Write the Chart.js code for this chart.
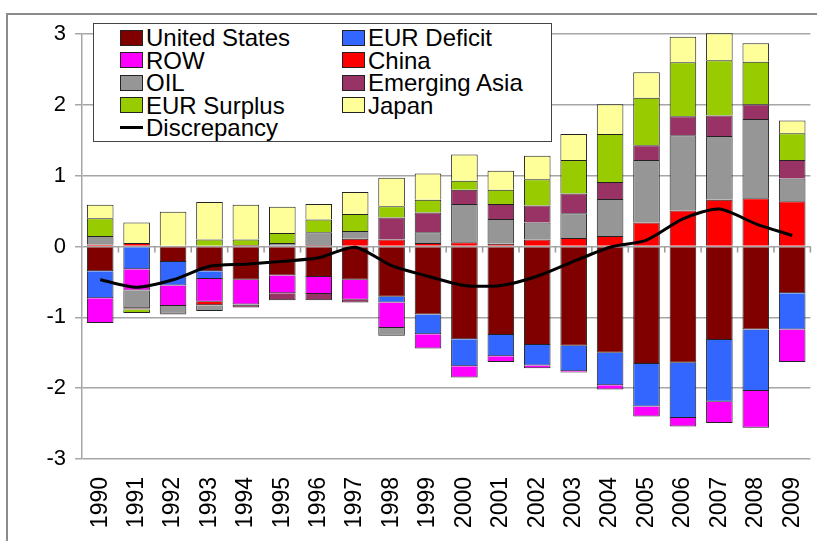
<!DOCTYPE html>
<html>
<head>
<meta charset="utf-8">
<script src="https://cdn.jsdelivr.net/npm/chart.js@4.4.1/dist/chart.umd.min.js"></script>
<style>
    html, body { margin: 0; padding: 0; background: #fff; overflow: hidden; }
    body { width: 817px; height: 541px; position: relative; font-family: "Liberation Sans", Arial, sans-serif; }
    #frame { position: absolute; left: 6px; top: 13px; width: 900px; height: 600px; border-left: 2px solid #8c8c8c; border-top: 2px solid #8c8c8c; }
    #wrap { position: absolute; left: 0; top: 0; width: 830px; height: 541px; }
    #legend { position: absolute; left: 93px; top: 23px; width: 459px; height: 119px; box-sizing: border-box;
              border: 1.5px solid #444; background: #fff; }
    .item { position: absolute; height: 22px; line-height: 22px; font-size: 24px; color: #000; white-space: nowrap; }
    .sw { display: inline-block; width: 21px; height: 14px; border: 1px solid #222; vertical-align: middle; margin-right: 3px; position: relative; top: -2px; }
    .ln { display: inline-block; width: 23px; height: 3px; background: #000; vertical-align: middle; margin-right: 3px; position: relative; top: -2px; }
</style>
</head>
<body>
<div id="frame"></div>
<div id="wrap"><canvas id="imbChart"></canvas></div>
<div id="legend"></div>
<script>
// current accounts, % of world GDP
const years = ["1990","1991","1992","1993","1994","1995","1996","1997","1998","1999",
               "2000","2001","2002","2003","2004","2005","2006","2007","2008","2009"];
const unitedStates = [-0.35, 0, -0.22, -0.35, -0.47, -0.41, -0.43, -0.47, -0.71, -0.96, -1.31, -1.25, -1.39, -1.40, -1.50, -1.66, -1.64, -1.32, -1.17, -0.66];
const eurDeficit   = [-0.38, -0.32, -0.33, -0.11, 0, 0, 0, 0, -0.08, -0.28, -0.38, -0.30, -0.29, -0.36, -0.46, -0.60, -0.78, -0.87, -0.87, -0.51];
const row          = [-0.35, -0.30, -0.29, -0.32, -0.35, -0.25, -0.24, -0.28, -0.36, -0.20, -0.16, -0.08, -0.04, -0.02, -0.06, -0.14, -0.12, -0.30, -0.52, -0.46];
const china        = [0.03, 0.05, 0.01, -0.05, 0.02, 0.01, 0.02, 0.11, 0.10, 0.05, 0.06, 0.04, 0.10, 0.12, 0.15, 0.34, 0.51, 0.66, 0.68, 0.64];
const oil          = [0.12, -0.25, -0.11, -0.08, -0.02, 0.04, 0.18, 0.11, -0.11, 0.15, 0.54, 0.35, 0.24, 0.35, 0.52, 0.88, 1.06, 0.90, 1.12, 0.32];
const emergingAsia = [0, -0.02, -0.01, 0, -0.02, -0.10, -0.09, -0.04, 0.31, 0.28, 0.20, 0.21, 0.24, 0.28, 0.24, 0.21, 0.27, 0.29, 0.21, 0.26];
const eurSurplus   = [0.25, -0.05, 0, 0.10, 0.08, 0.14, 0.18, 0.24, 0.16, 0.18, 0.13, 0.20, 0.37, 0.47, 0.68, 0.67, 0.76, 0.78, 0.60, 0.38];
const japan        = [0.19, 0.29, 0.48, 0.53, 0.49, 0.37, 0.22, 0.31, 0.40, 0.37, 0.37, 0.27, 0.33, 0.37, 0.42, 0.36, 0.36, 0.38, 0.26, 0.18];
const discrepancy  = [-0.47, -0.575, -0.47, -0.28, -0.25, -0.21, -0.16, -0.01, -0.27, -0.42, -0.55, -0.55, -0.42, -0.21, -0.01, 0.09, 0.39, 0.53, 0.32, 0.155];
const yTicks = [-3, -2, -1, 0, 1, 2, 3];

const FONT = "'Liberation Sans', Arial, sans-serif";

function barSet(label, data, color) {
    return {
        type: 'bar', label: label, data: data, backgroundColor: color,
        borderColor: '#222', borderWidth: 1, stack: 'ca', order: 1, clip: false,
        barPercentage: 0.73, categoryPercentage: 1.0
    };
}

const barSets = [
    barSet('United States', unitedStates, '#800000'),
    barSet('EUR Deficit', eurDeficit, '#3366FF'),
    barSet('ROW', row, '#FF00FF'),
    barSet('China', china, '#FF0000'),
    barSet('OIL', oil, '#969696'),
    barSet('Emerging Asia', emergingAsia, '#993366'),
    barSet('EUR Surplus', eurSurplus, '#99CC00'),
    barSet('Japan', japan, '#FFFF99')
];

const lineSet = {
    type: 'line', label: 'Discrepancy', data: discrepancy, borderColor: '#000',
    borderWidth: 3, pointRadius: 0, tension: 0.25, fill: false, stack: 'disc', order: 0
};

// little ticks hanging off the zero line between categories (excel style)
const zeroTicks = {
    id: 'zeroTicks',
    beforeDatasetsDraw(chart) {
        const xs = chart.scales.x, ys = chart.scales.y, ctx = chart.ctx;
        const y0 = ys.getPixelForValue(0);
        ctx.save();
        ctx.strokeStyle = '#9a9a9a';
        ctx.lineWidth = 1.5;
        for (let i = 0; i < years.length; i++) {
            const x = (xs.getPixelForValue(i) + xs.getPixelForValue(i + 1)) / 2;
            ctx.beginPath();
            ctx.moveTo(x, y0);
            ctx.lineTo(x, y0 + 6);
            ctx.stroke();
        }
        ctx.restore();
    }
};

const ctx = document.getElementById('imbChart').getContext('2d');
const imbChart = new Chart(ctx, {
    data: { labels: years, datasets: [lineSet].concat(barSets) },
    options: {
        responsive: true,
        maintainAspectRatio: false,
        animation: false,
        layout: { padding: { top: 34, right: 8, left: 0, bottom: 0 } },
        plugins: { legend: { display: false }, tooltip: { enabled: false } },
        scales: {
            x: {
                stacked: true,
                offset: true,
                grid: { display: false },
                border: { display: false },
                ticks: {
                    autoSkip: false, minRotation: 90, maxRotation: 90, padding: 10,
                    color: '#000', font: { family: FONT, size: 23 }
                },
                afterFit: function (scale) { scale.height = 82; }
            },
            y: {
                stacked: true,
                min: -3, max: 3,
                afterBuildTicks: function (scale) { scale.ticks = yTicks.map(v => ({ value: v })); },
                grid: { color: '#a6a6a6', lineWidth: 1.5, tickLength: 7, tickColor: '#a6a6a6' },
                border: { display: true, color: '#a6a6a6', width: 1.5 },
                ticks: { color: '#000', padding: 9, font: { family: FONT, size: 22 } },
                afterFit: function (scale) { scale.width = 82; }
            }
        }
    },
    plugins: [zeroTicks]
});

// html legend, two columns like the excel one
const legendBox = document.getElementById('legend');
const entries = barSets.map(d => ({ label: d.label, color: d.backgroundColor }));
entries.push({ label: lineSet.label, line: true });
entries.forEach(function (e, i) {
    const col = i < 8 ? i % 2 : 0;
    const r = Math.floor(i / 2);
    const div = document.createElement('div');
    div.className = 'item';
    div.style.left = (col === 0 ? 26 : 248) + 'px';
    div.style.top = (3 + r * 22.5) + 'px';
    div.innerHTML = (e.line ? '<span class="ln"></span>' : '<span class="sw" style="background:' + e.color + '"></span>') + e.label;
    legendBox.appendChild(div);
});
</script>
</body>
</html>
